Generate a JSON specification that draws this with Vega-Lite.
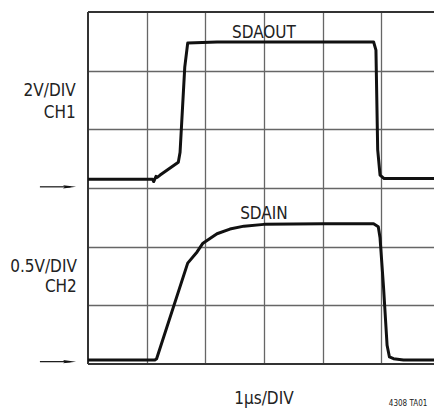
{
  "$schema": "https://vega.github.io/schema/vega-lite/v6.json",
  "width": 346,
  "height": 352,
  "autosize": "none",
  "padding": {"left": 88, "top": 12, "right": 0, "bottom": 45},
  "background": "white",
  "config": {"view": {"stroke": null}, "font": "DejaVu Sans Condensed, Liberation Sans, sans-serif"},
  "datasets": {
    "traces": [
      {"ch": "SDAOUT", "x": 0, "y": 3.15},
      {"ch": "SDAOUT", "x": 1.1, "y": 3.15},
      {"ch": "SDAOUT", "x": 1.12, "y": 3.11},
      {"ch": "SDAOUT", "x": 1.16, "y": 3.2},
      {"ch": "SDAOUT", "x": 1.18, "y": 3.18},
      {"ch": "SDAOUT", "x": 1.23, "y": 3.22},
      {"ch": "SDAOUT", "x": 1.54, "y": 3.44},
      {"ch": "SDAOUT", "x": 1.57, "y": 3.61},
      {"ch": "SDAOUT", "x": 1.65, "y": 5.06},
      {"ch": "SDAOUT", "x": 1.7, "y": 5.47},
      {"ch": "SDAOUT", "x": 2.2, "y": 5.49},
      {"ch": "SDAOUT", "x": 4.87, "y": 5.49},
      {"ch": "SDAOUT", "x": 4.91, "y": 5.35},
      {"ch": "SDAOUT", "x": 4.94, "y": 3.65},
      {"ch": "SDAOUT", "x": 4.98, "y": 3.22},
      {"ch": "SDAOUT", "x": 5.05, "y": 3.16},
      {"ch": "SDAOUT", "x": 5.9, "y": 3.16},
      {"ch": "SDAIN", "x": 0, "y": 0.07},
      {"ch": "SDAIN", "x": 1.14, "y": 0.07},
      {"ch": "SDAIN", "x": 1.17, "y": 0.09},
      {"ch": "SDAIN", "x": 1.7, "y": 1.72},
      {"ch": "SDAIN", "x": 1.86, "y": 1.91},
      {"ch": "SDAIN", "x": 1.96, "y": 2.06},
      {"ch": "SDAIN", "x": 2.2, "y": 2.22},
      {"ch": "SDAIN", "x": 2.42, "y": 2.3},
      {"ch": "SDAIN", "x": 2.66, "y": 2.35},
      {"ch": "SDAIN", "x": 3.0, "y": 2.38},
      {"ch": "SDAIN", "x": 4.0, "y": 2.39},
      {"ch": "SDAIN", "x": 4.87, "y": 2.39},
      {"ch": "SDAIN", "x": 4.95, "y": 2.34},
      {"ch": "SDAIN", "x": 4.98, "y": 2.15},
      {"ch": "SDAIN", "x": 5.04, "y": 1.3},
      {"ch": "SDAIN", "x": 5.1, "y": 0.32},
      {"ch": "SDAIN", "x": 5.14, "y": 0.12},
      {"ch": "SDAIN", "x": 5.21, "y": 0.09},
      {"ch": "SDAIN", "x": 5.38, "y": 0.07},
      {"ch": "SDAIN", "x": 5.9, "y": 0.07}
    ],
    "borders": [
      {"x": 0, "y": 0, "x2": 0, "y2": 6},
      {"x": 0, "y": 6, "x2": 5.9, "y2": 6},
      {"x": 0, "y": 0, "x2": 5.9, "y2": 0}
    ],
    "arrows": [
      {"x": -0.82, "x2": -0.3, "y": 3.02, "hx": -0.315},
      {"x": -0.82, "x2": -0.3, "y": 0.04, "hx": -0.315}
    ],
    "centerLabels": [
      {"t": "SDAOUT", "x": 3.0, "y": 5.56},
      {"t": "SDAIN", "x": 3.0, "y": 2.48},
      {"t": "1µs/DIV", "x": 3.0, "y": -0.68}
    ],
    "sideLabels": [
      {"t": "2V/DIV", "x": -0.21, "y": 4.56},
      {"t": "CH1", "x": -0.21, "y": 4.19},
      {"t": "0.5V/DIV", "x": -0.19, "y": 1.57},
      {"t": "CH2", "x": -0.19, "y": 1.22}
    ],
    "note": [
      {"t": "4308 TA01", "x": 5.13, "y": -0.75}
    ]
  },
  "layer": [
    {
      "data": {"name": "borders"},
      "mark": {"type": "rule", "color": "#333", "strokeWidth": 2},
      "encoding": {
        "x": {"field": "x", "type": "quantitative",
              "scale": {"domain": [0, 5.9], "nice": false, "zero": false},
              "axis": {"values": [1, 2, 3, 4, 5], "grid": true, "labels": false, "ticks": false, "domain": false, "title": null, "gridColor": "#666", "gridWidth": 1.3, "gridOpacity": 1}},
        "y": {"field": "y", "type": "quantitative",
              "scale": {"domain": [0, 6], "nice": false, "zero": false},
              "axis": {"values": [1, 2, 3, 4, 5], "grid": true, "labels": false, "ticks": false, "domain": false, "title": null, "gridColor": "#666", "gridWidth": 1.3, "gridOpacity": 1}},
        "x2": {"field": "x2"},
        "y2": {"field": "y2"}
      }
    },
    {
      "data": {"name": "traces"},
      "mark": {"type": "line", "color": "#111", "strokeWidth": 3, "strokeJoin": "round"},
      "encoding": {
        "x": {"field": "x", "type": "quantitative"},
        "y": {"field": "y", "type": "quantitative"},
        "detail": {"field": "ch"}
      }
    },
    {
      "data": {"name": "arrows"},
      "mark": {"type": "rule", "color": "#111", "strokeWidth": 1.2},
      "encoding": {
        "x": {"field": "x", "type": "quantitative"},
        "x2": {"field": "x2"},
        "y": {"field": "y", "type": "quantitative"}
      }
    },
    {
      "data": {"name": "arrows"},
      "mark": {"type": "point", "shape": "M-1,-0.25L1,0L-1,0.25L-0.7,0Z", "filled": true, "color": "#111", "size": 169, "opacity": 1},
      "encoding": {
        "x": {"field": "hx", "type": "quantitative"},
        "y": {"field": "y", "type": "quantitative"}
      }
    },
    {
      "data": {"name": "centerLabels"},
      "mark": {"type": "text", "align": "center", "baseline": "alphabetic", "fontSize": 17, "color": "#222"},
      "encoding": {
        "x": {"field": "x", "type": "quantitative"},
        "y": {"field": "y", "type": "quantitative"},
        "text": {"field": "t"}
      }
    },
    {
      "data": {"name": "sideLabels"},
      "mark": {"type": "text", "align": "right", "baseline": "alphabetic", "fontSize": 17, "color": "#222"},
      "encoding": {
        "x": {"field": "x", "type": "quantitative"},
        "y": {"field": "y", "type": "quantitative"},
        "text": {"field": "t"}
      }
    },
    {
      "data": {"name": "note"},
      "mark": {"type": "text", "align": "left", "baseline": "bottom", "fontSize": 8, "color": "#222"},
      "encoding": {
        "x": {"field": "x", "type": "quantitative"},
        "y": {"field": "y", "type": "quantitative"},
        "text": {"field": "t"}
      }
    }
  ]
}
